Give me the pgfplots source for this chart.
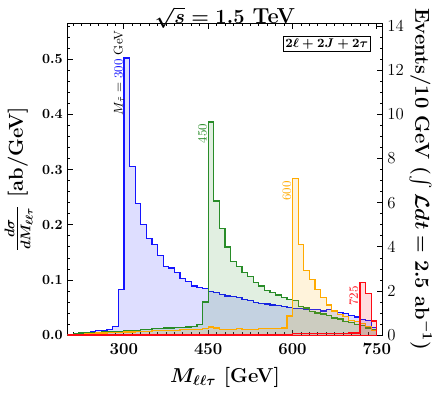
\documentclass[border={0pt 2pt 3pt 1.5pt}]{standalone}
\usepackage{pgfplots}
\pgfplotsset{compat=1.18}
\usepackage{amsmath,amssymb}
\definecolor{hblue}{RGB}{20,20,255}
\definecolor{hgreen}{RGB}{40,140,40}
\definecolor{horange}{RGB}{255,170,0}
\definecolor{hred}{RGB}{255,10,20}

\pgfplotstableread{
M     blue    green   orange  red
200   0.002   0.002   0.001   0.001
210   0.003   0.003   0.002   0.001
220   0.004   0.004   0.002   0.001
230   0.005   0.004   0.003   0.001
240   0.007   0.005   0.003   0.001
250   0.008   0.005   0.004   0.001
260   0.009   0.006   0.004   0.001
270   0.010   0.006   0.005   0.001
280   0.016   0.007   0.005   0.001
290   0.083   0.007   0.005   0.001
300   0.502   0.008   0.006   0.001
310   0.306   0.008   0.006   0.001
320   0.239   0.009   0.007   0.001
330   0.200   0.010   0.007   0.001
340   0.175   0.011   0.007   0.001
350   0.164   0.012   0.008   0.001
360   0.144   0.012   0.008   0.001
370   0.125   0.013   0.008   0.001
380   0.122   0.013   0.009   0.001
390   0.114   0.014   0.009   0.001
400   0.103   0.014   0.010   0.002
410   0.097   0.015   0.010   0.002
420   0.089   0.016   0.010   0.002
430   0.087   0.020   0.011   0.002
440   0.084   0.060   0.012   0.002
450   0.079   0.386   0.015   0.002
460   0.077   0.243   0.013   0.002
470   0.074   0.193   0.011   0.002
480   0.071   0.160   0.011   0.002
490   0.070   0.134   0.011   0.002
500   0.068   0.125   0.012   0.002
510   0.065   0.113   0.011   0.002
520   0.0625  0.107   0.011   0.002
530   0.0595  0.095   0.011   0.002
540   0.058   0.089   0.012   0.002
550   0.0565  0.081   0.012   0.002
560   0.055   0.077   0.012   0.002
570   0.0535  0.073   0.012   0.002
580   0.052   0.069   0.013   0.002
590   0.0505  0.065   0.035   0.002
600   0.0486  0.0626  0.284   0.003
610   0.049   0.0523  0.164   0.003
620   0.047   0.0493  0.117   0.003
630   0.047   0.0432  0.101   0.003
640   0.046   0.0403  0.083   0.003
650   0.044   0.0385  0.069   0.003
660   0.046   0.0354  0.055   0.003
670   0.044   0.0312  0.044   0.003
680   0.041   0.0294  0.038   0.003
690   0.040   0.025   0.034   0.003
700   0.036   0.0232  0.027   0.004
710   0.033   0.019   0.025   0.004
720   0.029   0.017   0.021   0.095
730   0.027   0.013   0.016   0.075
740   0.014   0.010   0.008   0.026
750   0.014   0.010   0.008   0.026
}\histdata

\begin{document}
\begin{tikzpicture}
\begin{axis}[
    name=ax1,
    scale only axis, width=225pt, height=223pt,
    xmin=200, xmax=760, ymin=0, ymax=0.565,
    xtick={300,450,600,750}, minor xtick={210,225,...,750},
    ytick={0,0.1,0.2,0.3,0.4,0.5}, minor ytick={0.02,0.04,...,0.56},
    yticklabel style={/pgf/number format/.cd,fixed,fixed zerofill,precision=1},
    tick align=inside, xtick pos=both, ytick pos=left,
    major tick length=4pt, minor tick length=2pt,
    tick style={black, line width=0.6pt},
    tick label style={font=\boldmath},
    xticklabel style={font=\large\boldmath, yshift=-2.5pt},
    axis line style={line width=1pt},
    label style={font=\Large\bfseries\boldmath},
    xlabel={$M_{\ell\ell\tau}$ [GeV]},
    xlabel style={yshift=-2pt},
    ylabel={$\frac{d\sigma}{dM_{\ell\ell\tau}}$ [ab/GeV]},
    title={$\sqrt{s} = 1.5$ TeV},
    title style={font=\fontsize{15.5}{18}\selectfont\bfseries\boldmath, yshift=-13pt},
    const plot mark left,
]
\addplot[draw=hblue, line width=0.9pt, fill=hblue, fill opacity=0.14] table[x=M,y=blue] {\histdata} \closedcycle;
\addplot[draw=hgreen, line width=0.9pt, fill=hgreen, fill opacity=0.14] table[x=M,y=green] {\histdata} \closedcycle;
\addplot[draw=horange, line width=0.9pt, fill=horange, fill opacity=0.14] table[x=M,y=orange] {\histdata} \closedcycle;
\addplot[draw=hred, line width=0.9pt, fill=hred, fill opacity=0.14] table[x=M,y=red] {\histdata} \closedcycle;

\node[rotate=90, anchor=east, font=\small, inner sep=1pt] at (axis cs:291,0.555) {$M_{\tilde{\tau}} = {\color{hblue}300}$ GeV};
\node[rotate=90, anchor=east, font=\small, text=hgreen, inner sep=1pt] at (axis cs:440,0.386) {450};
\node[rotate=90, anchor=east, font=\small, text=horange, inner sep=1pt] at (axis cs:590,0.282) {600};
\node[rotate=90, anchor=east, font=\small, text=hred, inner sep=1pt] at (axis cs:709,0.092) {725};
\node[draw, fill=white, anchor=north east, font=\small\boldmath, inner sep=1.5pt] at (rel axis cs:0.962,0.958) {$2\ell + 2J + 2\tau$};
\end{axis}
\begin{axis}[
    scale only axis, width=225pt, height=223pt,
    xmin=200, xmax=760, ymin=0, ymax=14.125,
    axis x line=none, axis y line=right,
    axis line style={-, line width=1pt},
    ytick={0,2,...,14}, minor ytick={0.5,1,...,14},
    tick align=inside,
    major tick length=4pt, minor tick length=2pt,
    tick style={black, line width=0.6pt},
    yticklabel style={font=\large},
]
\end{axis}
\node[rotate=-90, anchor=south, font=\Large\bfseries\boldmath, inner sep=0pt]
  at ([xshift=19pt]ax1.east) {Events/10 GeV ($\int \mathcal{L} dt = 2.5$ ab$^{-1}$)};
\end{tikzpicture}
\end{document}
